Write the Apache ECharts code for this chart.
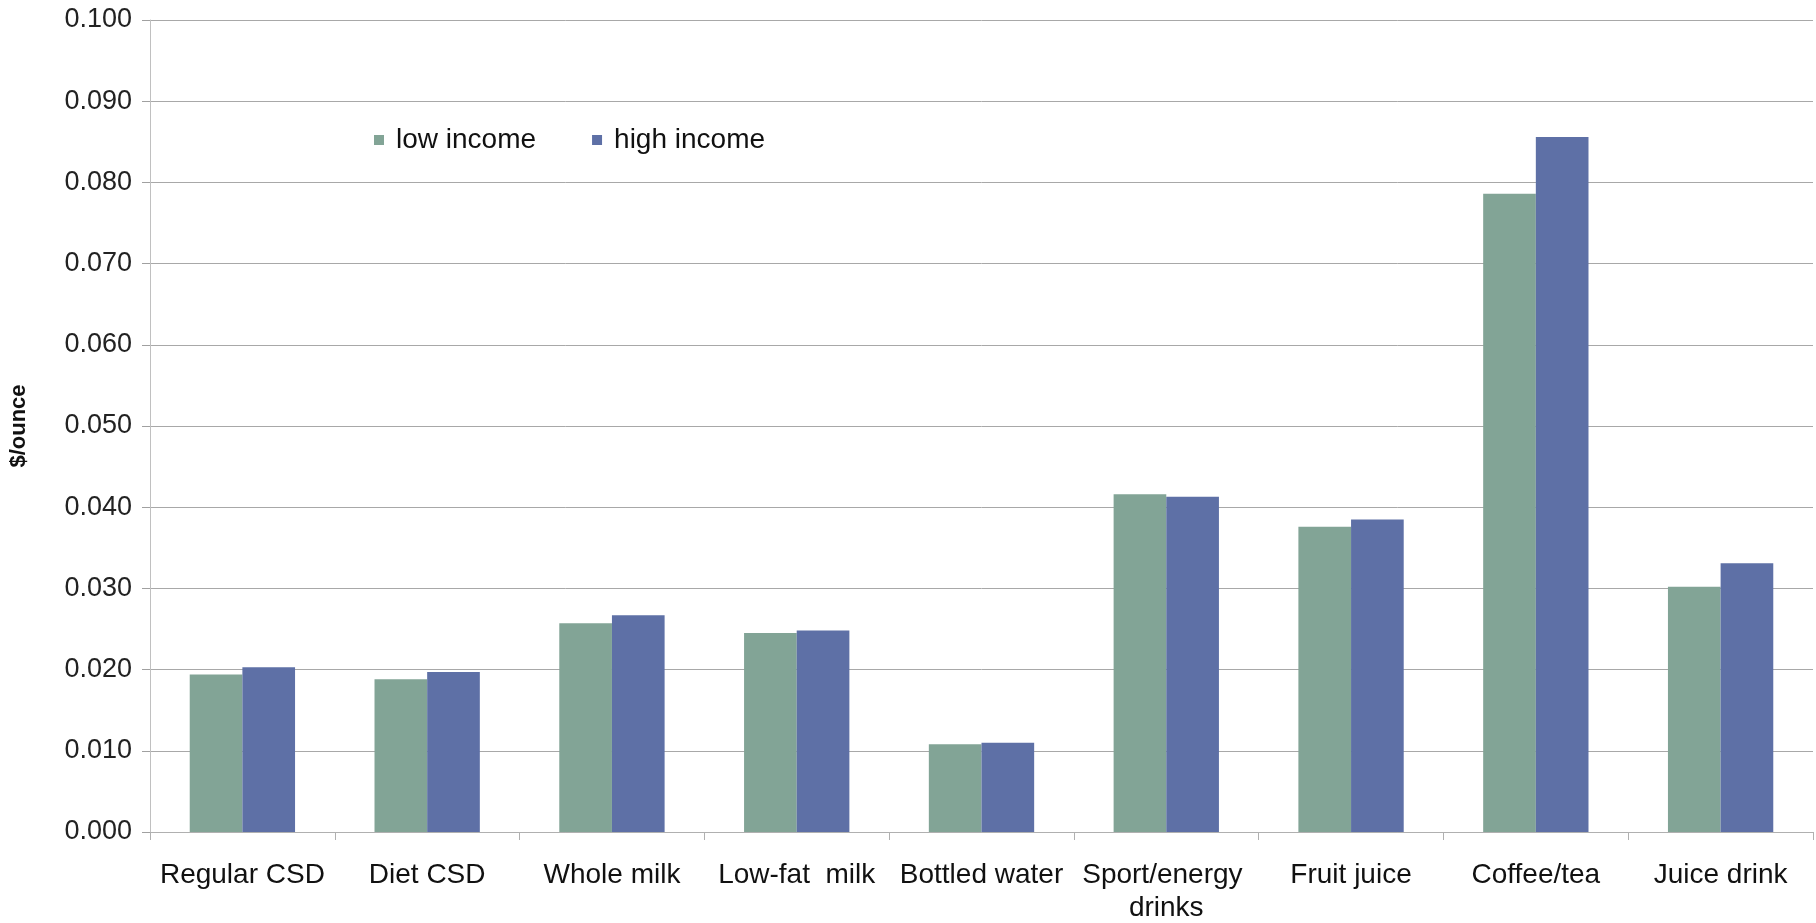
<!DOCTYPE html>
<html>
<head>
<meta charset="utf-8">
<script src="https://cdn.jsdelivr.net/npm/echarts@6/dist/echarts.min.js"></script>
<style>
  html, body { margin: 0; padding: 0; background: #fff; }
  #main { width: 1816px; height: 923px; }
</style>
</head>
<body>
<div id="main"></div>
<script>
// beverage categories
const categories = ['Regular CSD', 'Diet CSD', 'Whole milk', 'Low-fat  milk', 'Bottled water',
    'Sport/energy drinks', 'Fruit juice', 'Coffee/tea', 'Juice drink'];
// $/ounce
const lowIncome = [0.0194, 0.0188, 0.0257, 0.0245, 0.0108, 0.0416, 0.0376, 0.0786, 0.0302];
const highIncome = [0.0203, 0.0197, 0.0267, 0.0248, 0.0110, 0.0413, 0.0385, 0.0856, 0.0331];
const seriesNames = ['low income', 'high income'];

const font = 'Arial, "Liberation Sans", sans-serif';
let chart = echarts.init(document.getElementById('main'));

let option = {
    backgroundColor: '#fff',
    animation: false,
    color: ['#82a496', '#5e70a6'],
    grid: { left: 150, right: 3, top: 20, bottom: 91, outerBoundsMode: 'none' },
    legend: {
        left: 369,
        top: 121,
        itemWidth: 10,
        itemHeight: 10,
        itemGap: 56,
        icon: 'rect',
        textStyle: { fontFamily: font, fontSize: 28, color: '#111', padding: [0, 0, 0, 7] },
        data: seriesNames
    },
    xAxis: {
        type: 'category',
        data: categories,
        axisLine: { lineStyle: { color: '#b0b0b0', width: 1 } },
        axisTick: { show: true, length: 8, lineStyle: { color: '#b0b0b0' } },
        axisLabel: {
            fontFamily: font, fontSize: 28, color: '#111', margin: 27,
            interval: 0, width: 182, overflow: 'break', lineHeight: 33
        }
    },
    yAxis: {
        type: 'value',
        min: 0,
        max: 0.1,
        interval: 0.01,
        name: '$/ounce',
        nameLocation: 'middle',
        nameGap: 120,
        nameTextStyle: { fontFamily: font, fontSize: 22, fontWeight: 'bold', color: '#111' },
        axisLine: { show: true, lineStyle: { color: '#c0c0c0', width: 1 } },
        axisTick: { show: true, length: 8, lineStyle: { color: '#a0a0a0' } },
        axisLabel: {
            fontFamily: font, fontSize: 27, color: '#222', margin: 18,
            formatter: v => v.toFixed(3)
        },
        splitLine: { lineStyle: { color: '#a8a8a8', width: 1 } }
    },
    series: [
        {
            name: seriesNames[0], type: 'bar', data: lowIncome,
            barGap: '0%', barCategoryGap: '43%'
        },
        {
            name: seriesNames[1], type: 'bar', data: highIncome,
            barGap: '0%', barCategoryGap: '43%'
        }
    ]
};

chart.setOption(option);
</script>
</body>
</html>
